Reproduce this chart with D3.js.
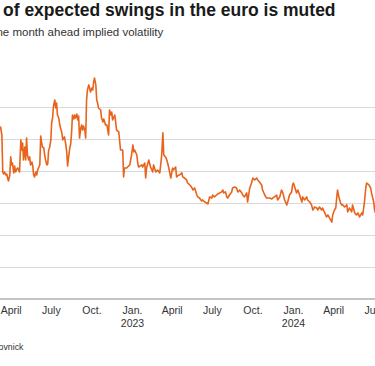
<!DOCTYPE html>
<html>
<head>
<meta charset="utf-8">
<script src="https://cdn.jsdelivr.net/npm/d3@7"></script>
<style>
  html, body { margin: 0; padding: 0; background: #ffffff; overflow: hidden; }
  svg { display: block; font-family: "Liberation Sans", Arial, Helvetica, sans-serif; }
</style>
</head>
<body>
<svg id="chart" width="375" height="366"></svg>
<script>
// ---------- data ----------
const titleText = "of expected swings in the euro is muted";
const subtitleText = "one month ahead implied volatility";
const sourceText = "Rovnick";

const dates = [
"2022-03-07","2022-03-09","2022-03-12","2022-03-14","2022-03-16","2022-03-18","2022-03-21","2022-03-23","2022-03-25","2022-03-27",
"2022-03-30","2022-04-01","2022-04-03","2022-04-05","2022-04-08","2022-04-10","2022-04-12","2022-04-15","2022-04-17","2022-04-21",
"2022-04-24","2022-04-26","2022-04-28","2022-04-30","2022-05-03","2022-05-05","2022-05-07","2022-05-09","2022-05-12","2022-05-14",
"2022-05-16","2022-05-19","2022-05-21","2022-05-23","2022-05-25","2022-05-28","2022-05-30","2022-06-01","2022-06-03","2022-06-06",
"2022-06-08","2022-06-10","2022-06-12","2022-06-15","2022-06-17","2022-06-19","2022-06-22","2022-06-24","2022-06-26","2022-06-28",
"2022-07-01","2022-07-03","2022-07-05","2022-07-07","2022-07-10","2022-07-12","2022-07-14","2022-07-16","2022-07-19","2022-07-21",
"2022-07-23","2022-07-26","2022-07-28","2022-07-30","2022-08-01","2022-08-04","2022-08-06","2022-08-08","2022-08-10","2022-08-13",
"2022-08-15","2022-08-17","2022-08-19","2022-08-22","2022-08-24","2022-08-26","2022-08-29","2022-08-31","2022-09-02","2022-09-04",
"2022-09-07","2022-09-09","2022-09-11","2022-09-13","2022-09-16","2022-09-18","2022-09-20","2022-09-22","2022-09-25","2022-09-27",
"2022-09-29","2022-10-02","2022-10-04","2022-10-06","2022-10-08","2022-10-11","2022-10-13","2022-10-15","2022-10-17","2022-10-22",
"2022-10-24","2022-10-27","2022-10-29","2022-11-02","2022-11-05","2022-11-07","2022-11-09","2022-11-11","2022-11-14","2022-11-16",
"2022-11-18","2022-11-23","2022-11-25","2022-11-27","2022-12-02","2022-12-06","2022-12-11","2022-12-13","2022-12-15","2022-12-20",
"2022-12-22","2022-12-27","2022-12-31","2023-01-03","2023-01-05","2023-01-07","2023-01-12","2023-01-14","2023-01-16","2023-01-23",
"2023-01-25","2023-01-30","2023-02-01","2023-02-03","2023-02-08","2023-02-12","2023-02-17","2023-02-19","2023-02-24","2023-02-28",
"2023-03-05","2023-03-09","2023-03-12","2023-03-14","2023-03-18","2023-03-21","2023-03-25","2023-03-30","2023-04-03","2023-04-05",
"2023-04-10","2023-04-12","2023-04-17","2023-04-19","2023-04-24","2023-04-26","2023-04-30","2023-05-05","2023-05-07","2023-05-12",
"2023-05-16","2023-05-19","2023-05-23","2023-05-28","2023-05-30","2023-06-03","2023-06-08","2023-06-10","2023-06-15","2023-06-19",
"2023-06-22","2023-06-26","2023-07-01","2023-07-03","2023-07-07","2023-07-12","2023-07-14","2023-07-19","2023-07-23","2023-07-26",
"2023-07-28","2023-08-01","2023-08-04","2023-08-06","2023-08-10","2023-08-15","2023-08-17","2023-08-22","2023-08-26","2023-08-29",
"2023-09-02","2023-09-07","2023-09-09","2023-09-13","2023-09-18","2023-09-20","2023-09-25","2023-09-29","2023-10-02","2023-10-06",
"2023-10-11","2023-10-13","2023-10-17","2023-10-22","2023-10-24","2023-10-29","2023-11-02","2023-11-05","2023-11-09","2023-11-14",
"2023-11-16","2023-11-20","2023-11-25","2023-11-27","2023-12-02","2023-12-06","2023-12-09","2023-12-13","2023-12-18","2023-12-20",
"2023-12-24","2023-12-29","2023-12-31","2024-01-02","2024-01-07","2024-01-09","2024-01-12","2024-01-16","2024-01-21","2024-01-23",
"2024-01-27","2024-02-01","2024-02-03","2024-02-08","2024-02-12","2024-02-15","2024-02-19","2024-02-24","2024-02-26","2024-03-01",
"2024-03-06","2024-03-08","2024-03-13","2024-03-17","2024-03-20","2024-03-24","2024-03-29","2024-03-31","2024-04-04","2024-04-07",
"2024-04-09","2024-04-11","2024-04-14","2024-04-18","2024-04-20","2024-04-23","2024-04-27","2024-05-02","2024-05-04","2024-05-08",
"2024-05-13","2024-05-15","2024-05-20","2024-05-24","2024-05-27","2024-05-31","2024-06-05","2024-06-07","2024-06-11","2024-06-14",
"2024-06-16","2024-06-21","2024-06-25","2024-06-27","2024-07-02","2024-07-04","2024-07-06"
];

const vols = [
10.69,10.75,10.25,7.94,7.81,7.94,7.75,7.81,7.56,7.38,
7.75,8.88,8.38,8.50,7.88,8.31,7.94,8.13,8.19,7.94,
9.94,9.31,9.75,8.69,9.50,8.69,10.06,9.00,8.69,8.88,
8.38,8.56,8.31,7.75,7.63,7.94,7.75,8.06,8.19,8.38,
10.19,9.81,9.50,9.44,9.00,8.69,8.38,8.44,9.31,9.44,
9.94,11.06,11.31,12.06,12.44,11.94,12.25,11.50,11.31,10.94,
10.69,10.38,9.94,10.06,10.13,9.63,9.19,8.31,8.81,9.44,
9.69,10.38,11.50,11.25,11.50,11.31,11.56,11.19,11.44,10.06,
10.69,10.88,10.56,10.81,10.56,10.06,12.44,13.06,13.38,13.19,
12.94,13.19,13.06,13.56,13.81,13.38,12.44,12.25,11.94,11.81,
11.31,11.06,11.25,10.88,10.88,10.56,10.25,11.81,11.50,11.69,
11.19,11.50,11.06,10.56,10.44,9.31,9.31,7.63,8.19,8.19,
8.25,8.38,9.00,9.63,9.19,9.31,9.00,8.50,8.25,8.38,
8.25,8.50,7.56,8.19,8.69,8.25,7.94,8.38,7.94,8.06,
7.88,8.88,10.38,9.00,8.88,8.69,8.25,7.56,8.19,8.06,
8.25,7.63,7.75,7.75,7.88,7.63,7.56,7.44,7.25,7.13,
7.00,6.81,6.94,6.50,6.38,6.31,6.13,6.19,6.06,6.00,
5.94,6.38,6.31,6.50,6.38,6.50,6.56,6.63,6.69,6.81,
6.63,6.69,6.38,6.31,6.50,6.69,6.94,7.00,6.94,6.69,
6.81,6.63,6.50,6.38,6.63,6.06,6.94,7.25,7.56,7.44,
7.56,7.44,7.31,7.13,6.81,6.50,6.31,6.31,6.31,6.25,
6.31,6.38,6.50,6.19,6.38,6.81,6.63,6.19,5.88,6.06,
6.50,6.69,7.13,7.25,6.81,6.63,6.81,6.50,6.06,6.38,
6.19,6.38,6.19,6.06,5.88,5.56,5.75,5.69,5.56,5.75,
5.56,5.69,5.38,5.13,5.25,5.06,4.81,5.25,5.56,5.69,
6.31,6.81,6.38,6.00,5.88,5.88,5.75,5.88,5.44,5.69,
5.44,5.88,5.38,5.25,5.38,5.13,5.38,5.25,6.06,6.94,
7.25,7.13,6.94,6.63,6.06,5.56,5.38
];

const gridValues = [2, 4, 6, 8, 10, 12];
const tickDates = ["2022-04-01","2022-07-01","2022-10-01","2023-01-01","2023-04-01","2023-07-01","2023-10-01","2024-01-01","2024-04-01","2024-07-01"];
const tickLabels = ["April","July","Oct.","Jan.\n2023","April","July","Oct.","Jan.\n2024","April","July"];

// ---------- chart ----------
const parse = d3.utcParse("%Y-%m-%d");
const data = dates.map((d, i) => ({ date: parse(d), v: vols[i] }));

const W = 375;
const svg = d3.select("#chart");

const x = d3.scaleUtc()
  .domain([parse("2023-01-01"), parse("2024-01-01")])
  .range([132, 293]);
const y = d3.scaleLinear().domain([0, 12]).range([299, 107]);

// title & subtitle
svg.append("text")
  .attr("x", 3).attr("y", 15.5)
  .attr("font-size", 17.5).attr("font-weight", "bold")
  .attr("fill", "#1a1a1a")
  .text(titleText);

svg.append("text")
  .attr("x", 163.3).attr("y", 36)
  .attr("text-anchor", "end")
  .attr("font-size", 11.5)
  .attr("fill", "#333333")
  .text(subtitleText);

// gridlines
const grid = svg.append("g")
  .call(d3.axisRight(y).tickValues(gridValues).tickSize(W).tickFormat(""));
grid.select(".domain").remove();
grid.selectAll(".tick line").attr("stroke", "#d9d9d9").attr("stroke-width", 1);

// line
svg.append("path")
  .datum(data)
  .attr("fill", "none")
  .attr("stroke", "#e8631c")
  .attr("stroke-width", 1.6)
  .attr("stroke-linejoin", "round")
  .attr("d", d3.line().x(d => x(d.date)).y(d => y(d.v)));

// baseline
svg.append("line")
  .attr("x1", 0).attr("x2", W)
  .attr("y1", y(0)).attr("y2", y(0))
  .attr("stroke", "#8a8a8a").attr("stroke-width", 1);

// x axis
const xAxis = svg.append("g")
  .attr("transform", `translate(0,${y(0)})`)
  .call(d3.axisBottom(x)
    .tickValues(tickDates.map(parse))
    .tickSize(0)
    .tickPadding(8)
    .tickFormat((d, i) => tickLabels[i]));
xAxis.select(".domain").remove();
xAxis.selectAll(".tick text")
  .attr("font-family", "\"Liberation Sans\", Arial, sans-serif")
  .attr("font-size", 10.5)
  .attr("fill", "#333333")
  .each(function (d, i) {
    const parts = tickLabels[i].split("\n");
    const t = d3.select(this);
    t.text(null).attr("dy", null);
    parts.forEach((p, j) => {
      t.append("tspan")
        .attr("x", 0)
        .attr("dy", j === 0 ? "0.71em" : "1.15em")
        .text(p);
    });
  });

// source
svg.append("text")
  .attr("x", 23.5).attr("y", 350)
  .attr("text-anchor", "end")
  .attr("font-size", 8.8)
  .attr("fill", "#333333")
  .text(sourceText);
</script>
</body>
</html>
